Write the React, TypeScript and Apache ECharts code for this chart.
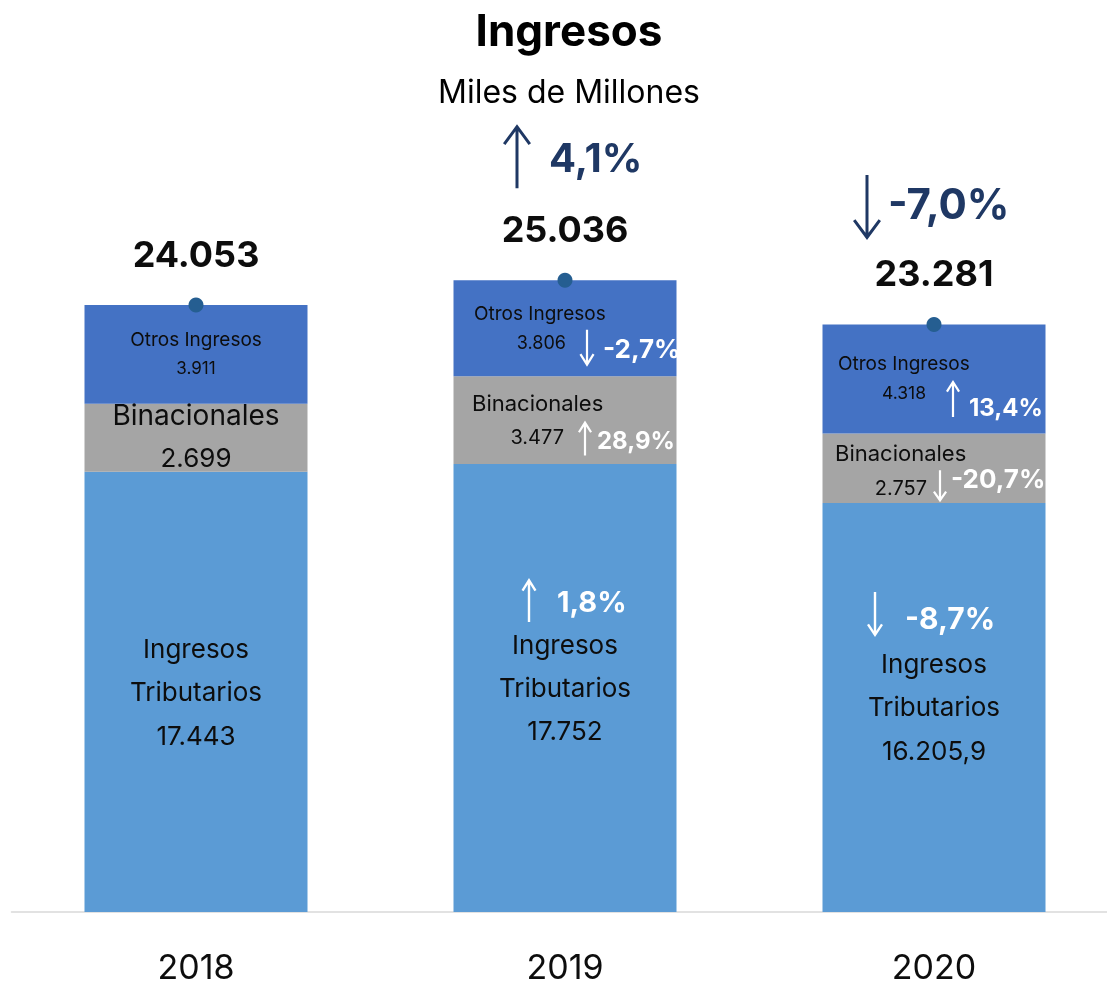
import React, { useEffect, useRef } from "react";
import * as echarts from "echarts";

const years = ["2018", "2019", "2020"];
const tributarios = [17443, 17752, 16205.9];
const binacionales = [2699, 3477, 2757];
const otros = [3911, 3806, 4318];
const totals = [24053, 25036, 23281];
const tributariosText = ["17.443", "17.752", "16.205,9"];
const binacionalesText = ["2.699", "3.477", "2.757"];
const otrosText = ["3.911", "3.806", "4.318"];
const totalsText = ["24.053", "25.036", "23.281"];
const totalChange = ["", "4,1%", "-7,0%"];
const tributariosChange = ["", "1,8%", "-8,7%"];
const binacionalesChange = ["", "28,9%", "-20,7%"];
const otrosChange = ["", "-2,7%", "13,4%"];

const FONT = 'Inter, "Noto Sans", sans-serif';
const DARK = "#0D0D0D";
const NAVY = "#1F3864";

function arrowPath(w: number, h: number, hh: number, t: number, up: boolean) {
  const cx = w / 2;
  const L = Math.sqrt(cx * cx + hh * hh);
  const a = cx / L;
  const b = hh / L;
  const p3x = w - t * b;
  const p3y = hh + t * a;
  const s = (p3x - (cx + t / 2)) / a;
  const jy = p3y - s * b;
  const pts: [number, number][] = [
    [cx, 0],
    [w, hh],
    [p3x, p3y],
    [cx + t / 2, jy],
    [cx + t / 2, h],
    [cx - t / 2, h],
    [cx - t / 2, jy],
    [w - p3x, p3y],
    [0, hh],
  ];
  const mapped = pts.map(([x, y]) => [x, up ? y : h - y]);
  return (
    "path://M" +
    mapped.map(([x, y]) => x.toFixed(2) + "," + y.toFixed(2)).join(" L") +
    " Z"
  );
}

function txt(
  cat: number,
  y: number,
  text: string,
  dx: number,
  dy: number,
  o: any
) {
  return {
    value: [cat, y],
    symbol: "circle",
    symbolSize: 1,
    itemStyle: { color: "rgba(0,0,0,0)", opacity: 1 },
    label: {
      show: true,
      position: "inside",
      offset: [dx, dy],
      formatter: () => text,
      align: o.align || "center",
      verticalAlign: "middle",
      fontFamily: FONT,
      fontSize: o.size,
      fontWeight: o.weight || "normal",
      color: o.color || DARK,
      lineHeight: o.lh,
      opacity: 1,
    },
  };
}

function arr(
  cat: number,
  y: number,
  change: string,
  dx: number,
  dy: number,
  w: number,
  h: number,
  hh: number,
  t: number,
  color: string
) {
  const up = !change.startsWith("-");
  return {
    value: [cat, y],
    symbol: arrowPath(w, h, hh, t, up),
    symbolSize: [w, h],
    symbolKeepAspect: false,
    symbolOffset: [dx, dy],
    itemStyle: { color, opacity: 1 },
    label: { show: false },
  };
}

export default function App() {
  const ref = useRef<HTMLDivElement>(null);
  useEffect(() => {
    if (!ref.current) return;
    const chart = echarts.init(ref.current, null, { renderer: "svg" });

    const mid = (i: number, seg: "t" | "b" | "o") => {
      if (seg === "t") return tributarios[i] / 2;
      if (seg === "b") return tributarios[i] + binacionales[i] / 2;
      return tributarios[i] + binacionales[i] + otros[i] / 2;
    };

    const W = "#FFFFFF";
    const ann: any[] = [];
    // 2018
    ann.push(txt(0, mid(0, "o"), "Otros Ingresos", 0, -15, { size: 19 }));
    ann.push(txt(0, mid(0, "o"), otrosText[0], 0, 14, { size: 17 }));
    ann.push(txt(0, mid(0, "b"), "Binacionales", 0, -23, { size: 28 }));
    ann.push(txt(0, mid(0, "b"), binacionalesText[0], 0, 20, { size: 26 }));
    ann.push(
      txt(0, mid(0, "t"), "Ingresos\nTributarios\n" + tributariosText[0], 0, 0, {
        size: 26,
        lh: 43.5,
      })
    );
    // 2019
    ann.push(txt(1, mid(1, "o"), "Otros Ingresos", -91, -15, { size: 19, align: "left" }));
    ann.push(txt(1, mid(1, "o"), otrosText[1], 1, 14, { size: 18, align: "right" }));
    ann.push(arr(1, mid(1, "o"), otrosChange[1], 22, 20, 15, 37, 12, 2.2, W));
    ann.push(
      txt(1, mid(1, "o"), otrosChange[1], 38, 20, { size: 26, weight: "bold", color: W, align: "left" })
    );
    ann.push(txt(1, mid(1, "b"), "Binacionales", -93, -17, { size: 22, align: "left" }));
    ann.push(txt(1, mid(1, "b"), binacionalesText[1], -1, 17, { size: 20, align: "right" }));
    ann.push(arr(1, mid(1, "b"), binacionalesChange[1], 20, 18, 14, 35, 11, 2.2, W));
    ann.push(
      txt(1, mid(1, "b"), binacionalesChange[1], 32, 20, { size: 24, weight: "bold", color: W, align: "left" })
    );
    ann.push(arr(1, mid(1, "t"), tributariosChange[1], -36, -88, 15, 44, 12, 2.4, W));
    ann.push(
      txt(1, mid(1, "t"), tributariosChange[1], -8, -86, { size: 29, weight: "bold", color: W, align: "left" })
    );
    ann.push(
      txt(1, mid(1, "t"), "Ingresos\nTributarios\n" + tributariosText[1], 0, 0, {
        size: 26,
        lh: 43,
      })
    );
    // 2020
    ann.push(txt(2, mid(2, "o"), "Otros Ingresos", -96, -15, { size: 19, align: "left" }));
    ann.push(txt(2, mid(2, "o"), otrosText[2], -8, 14, { size: 17.5, align: "right" }));
    ann.push(arr(2, mid(2, "o"), otrosChange[2], 19, 19.5, 14, 37, 11, 2.2, W));
    ann.push(
      txt(2, mid(2, "o"), otrosChange[2], 35, 29, { size: 24, weight: "bold", color: W, align: "left" })
    );
    ann.push(txt(2, mid(2, "b"), "Binacionales", -99, -15, { size: 22, align: "left" }));
    ann.push(txt(2, mid(2, "b"), binacionalesText[2], -7, 20, { size: 20, align: "right" }));
    ann.push(arr(2, mid(2, "b"), binacionalesChange[2], 6, 18, 14, 32, 10, 2.2, W));
    ann.push(
      txt(2, mid(2, "b"), binacionalesChange[2], 17, 10, { size: 26, weight: "bold", color: W, align: "left" })
    );
    ann.push(arr(2, mid(2, "t"), tributariosChange[2], -59, -93, 16, 45, 12, 2.4, W));
    ann.push(
      txt(2, mid(2, "t"), tributariosChange[2], -29, -90, { size: 30, weight: "bold", color: W, align: "left" })
    );
    ann.push(
      txt(2, mid(2, "t"), "Ingresos\nTributarios\n" + tributariosText[2], 0, -1, {
        size: 26,
        lh: 43.5,
      })
    );
    // totals and total change
    for (let i = 0; i < 3; i++) {
      ann.push(txt(i, totals[i], totalsText[i], 0, -51, { size: 36, weight: "bold" }));
    }
    ann.push(arr(1, totals[1], totalChange[1], -48, -124, 28, 64, 19, 3, NAVY));
    ann.push(
      txt(1, totals[1], totalChange[1], -16, -123, { size: 40, weight: "bold", color: NAVY, align: "left" })
    );
    ann.push(arr(2, totals[2], totalChange[2], -67, -117, 28, 65, 19, 3, NAVY));
    ann.push(
      txt(2, totals[2], totalChange[2], -46, -121, { size: 42, weight: "bold", color: NAVY, align: "left" })
    );

    chart.setOption({
      animation: false,
      graphic: [
        {
          type: "text",
          x: 569,
          y: 30,
          style: {
            text: "Ingresos",
            fontFamily: FONT,
            fontSize: 44,
            fontWeight: "bold",
            fill: "#000",
            align: "center",
            verticalAlign: "middle",
          },
        },
        {
          type: "text",
          x: 569,
          y: 91,
          style: {
            text: "Miles de Millones",
            fontFamily: FONT,
            fontSize: 32,
            fill: "#000",
            align: "center",
            verticalAlign: "middle",
          },
        },
      ],
      grid: { left: 11.5, width: 1107, top: 154.9, bottom: 74, containLabel: false },
      xAxis: {
        type: "category",
        data: years,
        axisTick: { show: false },
        axisLine: { lineStyle: { color: "#D9D9D9", width: 1.5 } },
        axisLabel: {
          fontFamily: FONT,
          fontSize: 34,
          lineHeight: 34,
          color: DARK,
          margin: 37,
        },
      },
      yAxis: { type: "value", min: 0, max: 30000, show: false, splitLine: { show: false } },
      series: [
        {
          name: "Ingresos Tributarios",
          type: "bar",
          stack: "total",
          barWidth: 223,
          data: tributarios,
          itemStyle: { color: "#5B9BD5" },
        },
        {
          name: "Binacionales",
          type: "bar",
          stack: "total",
          barWidth: 223,
          data: binacionales,
          itemStyle: { color: "#A5A5A5" },
        },
        {
          name: "Otros Ingresos",
          type: "bar",
          stack: "total",
          barWidth: 223,
          data: otros,
          itemStyle: { color: "#4472C4" },
        },
        {
          name: "Total",
          type: "scatter",
          data: totals.map((v, i) => [i, v]),
          symbolSize: 15,
          itemStyle: { color: "#255E91", opacity: 1 },
          z: 5,
        },
        {
          name: "Anotaciones",
          type: "scatter",
          data: ann,
          z: 10,
          silent: true,
          itemStyle: { opacity: 1 },
        },
      ],
    });
    return () => chart.dispose();
  }, []);
  return (
    <div
      ref={ref}
      style={{ position: "fixed", left: 0, top: 0, width: 1130, height: 986 }}
    />
  );
}
